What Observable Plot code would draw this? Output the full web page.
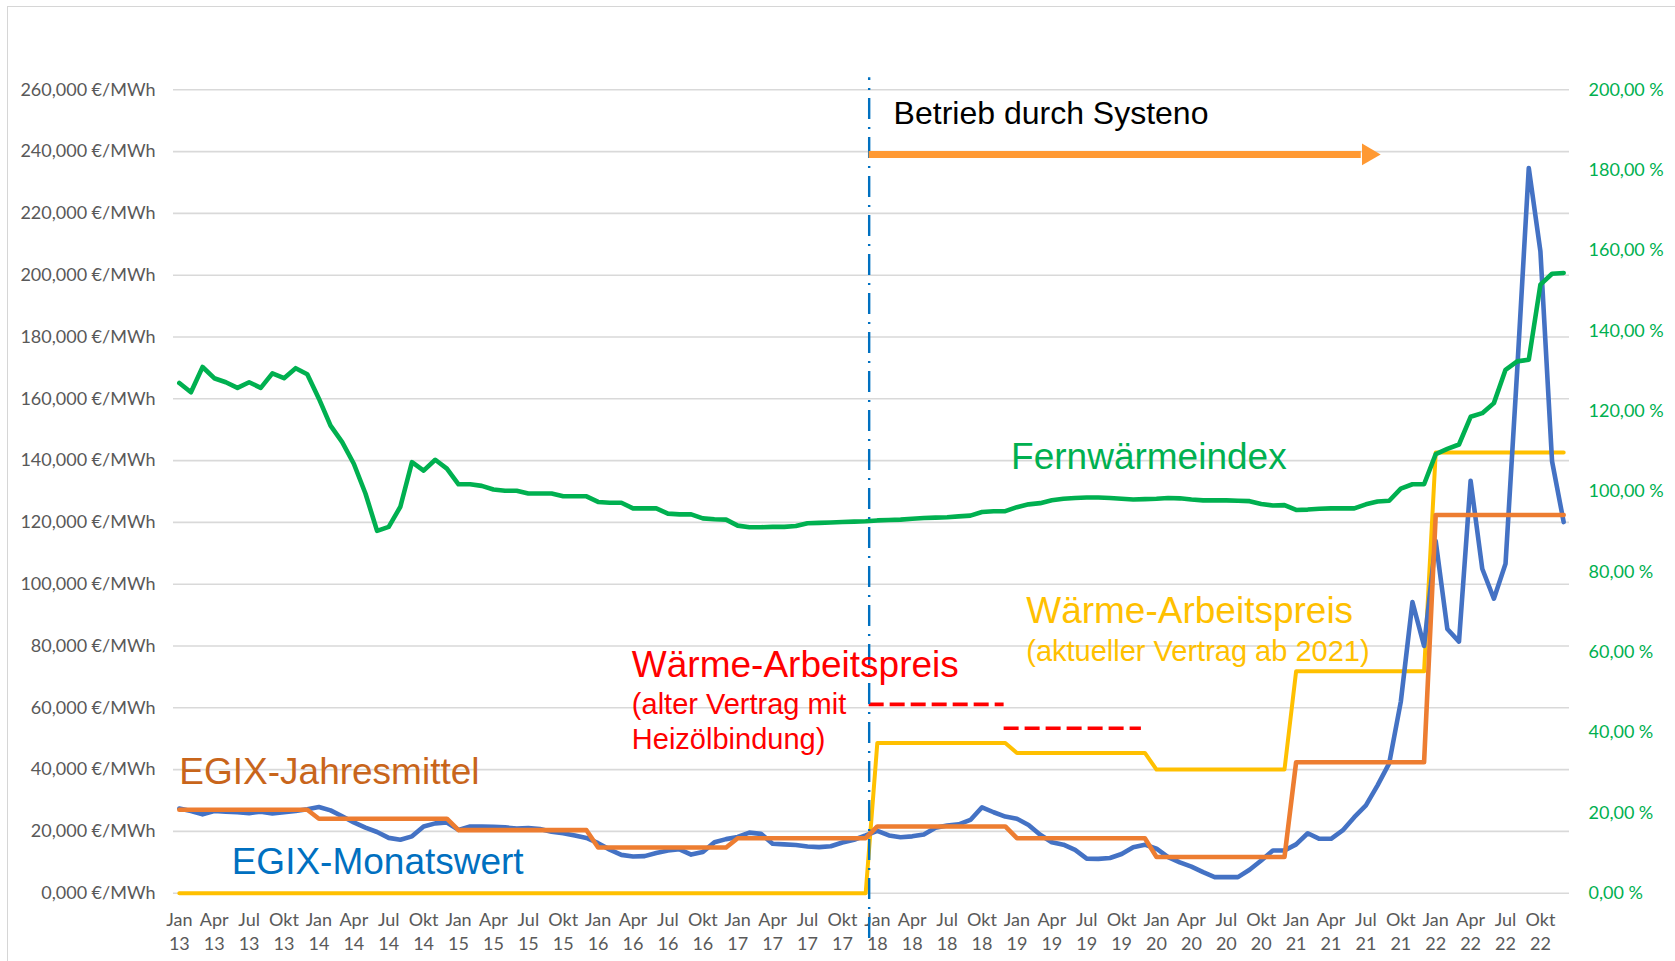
<!DOCTYPE html>
<html>
<head>
<meta charset="utf-8">
<script src="https://cdn.jsdelivr.net/npm/d3@7"></script>
<script src="https://cdn.jsdelivr.net/npm/@observablehq/plot@0.6"></script>
<style>
  html, body { margin: 0; padding: 0; background: #fff; overflow: hidden; }
  #wrap { position: relative; width: 1675px; height: 961px; }
  #border { position: absolute; left: 7px; top: 6px; width: 1668px; height: 955px;
            border-left: 1.5px solid #D6D6D6; border-top: 1.5px solid #D6D6D6; box-sizing: border-box; }
  #chart { position: absolute; left: 0; top: 0; }
</style>
</head>
<body>
<div id="wrap"><div id="border"></div><div id="chart"></div></div>
<script>
// ---- categories / tick labels ----
const monthNames = ["Jan","Feb","Mär","Apr","Mai","Jun","Jul","Aug","Sep","Okt","Nov","Dez"];
const yearLabels = ["13","14","15","16","17","18","19","20","21","22"];
const leftTicks = [0,20,40,60,80,100,120,140,160,180,200,220,240,260];   // €/MWh
const rightTicks = [0,20,40,60,80,100,120,140,160,180,200];              // %

// ---- series (monthly, Jan 13 .. Dez 22) ----
const egixMonatswert = [
  27.4, 26.6, 25.5, 26.6, 26.4, 26.2, 25.9, 26.4, 25.8, 26.2, 26.6, 27.2,
  27.9, 26.8, 24.9, 22.9, 21.2, 19.8, 17.9, 17.3, 18.4, 21.6, 22.6, 22.9,
  20.5, 21.6, 21.6, 21.5, 21.3, 20.9, 21.1, 20.8, 19.9, 19.4, 18.7, 17.9,
  16.2, 14.1, 12.4, 11.9, 12.0, 13.0, 13.8, 14.2, 12.5, 13.3, 16.5, 17.5,
  18.2, 19.6, 19.2, 16.0, 15.8, 15.6, 15.1, 14.9, 15.2, 16.4, 17.3, 18.7,
  20.2, 18.7, 18.1, 18.4, 19.0, 21.2, 21.9, 22.3, 23.7, 27.8, 26.2, 24.8,
  24.1, 22.1, 18.9, 16.5, 15.7, 14.0, 11.2, 11.1, 11.4, 12.7, 14.9, 15.7,
  14.4, 11.7, 10.0, 8.6, 6.8, 5.2, 5.2, 5.2, 7.6, 10.6, 13.8, 13.8,
  15.8, 19.4, 17.6, 17.6, 20.3, 24.6, 28.4, 34.9, 42.0, 62.0, 94.2, 80.0,
  114.0, 85.5, 81.4, 133.5, 105.0, 95.3, 106.6, 169.0, 234.7, 207.7, 139.8, 120.1
];
// yearly values 2013..2022
const egixJahresmittel = [27.0, 24.1, 20.4, 14.8, 17.8, 21.6, 17.8, 11.7, 42.4, 122.4];
const waermeArbeitspreisNeu = [0, 0, 0, 0, 0, 48.6, 45.4, 40.0, 71.8, 142.6];
// Fernwärmeindex in % (right axis)
const fernwaermeindex = [
  127.0, 124.7, 131.0, 128.2, 127.2, 125.8, 127.2, 125.8, 129.4, 128.2, 130.7, 129.2,
  123.1, 116.4, 112.3, 106.9, 99.5, 90.2, 91.2, 96.2, 107.3, 105.2, 107.9, 105.7,
  101.8, 101.8, 101.4, 100.5, 100.2, 100.2, 99.5, 99.5, 99.5, 98.8, 98.8, 98.8,
  97.4, 97.2, 97.2, 95.8, 95.8, 95.8, 94.5, 94.3, 94.3, 93.3, 93.1, 93.0,
  91.5, 91.1, 91.1, 91.2, 91.2, 91.4, 92.1, 92.2, 92.3, 92.4, 92.5, 92.6,
  92.8, 92.9, 93.0, 93.2, 93.4, 93.5, 93.6, 93.8, 94.0, 94.9, 95.1, 95.1,
  96.1, 96.8, 97.1, 97.8, 98.2, 98.4, 98.5, 98.5, 98.4, 98.2, 98.0, 98.1,
  98.2, 98.4, 98.3, 98.0, 97.8, 97.8, 97.8, 97.7, 97.6, 96.9, 96.5, 96.6,
  95.4, 95.5, 95.7, 95.8, 95.8, 95.8, 96.8, 97.5, 97.7, 100.7, 101.8, 101.8,
  109.3, 110.6, 111.7, 118.6, 119.5, 122.0, 130.3, 132.4, 132.8, 151.5, 154.2, 154.4
];
// old contract (Heizölbindung), month-index spans
const waermeArbeitspreisAlt = [
  {from: 59.3, to: 70.9, value: 61.1},
  {from: 70.9, to: 82.7, value: 53.4}
];
const systenoStart = 59.3;          // month index between Dez 17 and Jan 18
const systenoArrow = {from: 59.3, to: 101.6, head: 102.2, value: 239.1};

const annotations = [
  {text: "Betrieb durch Systeno", x: 61.4, y: 252.2, size: 32, color: "#000000"},
  {text: "Fernwärmeindex", x: 71.5, y: 141.1, size: 37, color: "#00B050"},
  {text: "Wärme-Arbeitspreis", x: 72.8, y: 91.3, size: 37, color: "#FFC000"},
  {text: "(aktueller Vertrag ab 2021)", x: 72.8, y: 78.2, size: 29, color: "#FFC000"},
  {text: "Wärme-Arbeitspreis", x: 38.9, y: 73.9, size: 37, color: "#FF0000"},
  {text: "(alter Vertrag mit", x: 38.9, y: 61.0, size: 29, color: "#FF0000"},
  {text: "Heizölbindung)", x: 38.9, y: 49.6, size: 29, color: "#FF0000"},
  {text: "EGIX-Jahresmittel", x: 0.0, y: 39.1, size: 37, color: "#C8651B"},
  {text: "EGIX-Monatswert", x: 4.5, y: 10.0, size: 37, color: "#0070C0"}
];

// ---- build table ----
const pctToLeft = 260 / 200;   // 200 % on the right axis = 260 €/MWh on the left axis
const rows = egixMonatswert.map((v, i) => ({
  i,
  monat: v,
  jahr: egixJahresmittel[Math.floor(i / 12)],
  neu: waermeArbeitspreisNeu[Math.floor(i / 12)],
  index: fernwaermeindex[i] * pctToLeft
}));
const xTicks = d3.range(0, 120, 3);
const fmtLeft = v => v.toFixed(3).replace(".", ",") + "\u202F€/MWh";
const fmtPct = v => v.toFixed(2).replace(".", ",") + "\u202F%";

const lineOpts = {x: "i", strokeLinejoin: "round", strokeLinecap: "round"};

const chart = Plot.plot({
  width: 1675,
  height: 961,
  marginLeft: 173,
  marginRight: 106,
  marginTop: 89.3,
  marginBottom: 68.3,
  style: {fontFamily: "Lato, sans-serif", fontSize: "18px", background: "transparent", overflow: "visible"},
  x: {type: "linear", domain: [-0.5, 119.5]},
  y: {type: "linear", domain: [0, 260]},
  marks: [
    Plot.gridY(leftTicks, {stroke: "#D9D9D9", strokeOpacity: 1, strokeWidth: 1.6}),
    Plot.axisY({ticks: leftTicks, tickSize: 0, tickPadding: 18, tickFormat: fmtLeft,
                fill: "#595959", fontSize: 18, label: null}),
    Plot.axisY({anchor: "right", ticks: rightTicks.map(p => p * pctToLeft), tickSize: 0, tickPadding: 19,
                tickFormat: v => fmtPct(v / pctToLeft), fill: "#00B050", fontSize: 18, label: null}),
    Plot.axisX({ticks: xTicks, tickSize: 0, tickPadding: 15, lineHeight: 1.36,
                tickFormat: i => monthNames[i % 12] + "\n" + yearLabels[Math.floor(i / 12)],
                fill: "#595959", fontSize: 18, label: null}),
    Plot.line(rows, {...lineOpts, y: "neu", stroke: "#FFC000", strokeWidth: 4}),
    Plot.line(rows, {...lineOpts, y: "monat", stroke: "#4472C4", strokeWidth: 4.6}),
    Plot.line(rows, {...lineOpts, y: "jahr", stroke: "#ED7D31", strokeWidth: 4.6}),
    Plot.line(rows, {...lineOpts, y: "index", stroke: "#00B050", strokeWidth: 4.6}),
    Plot.ruleY(waermeArbeitspreisAlt, {y: "value", x1: "from", x2: "to", stroke: "#FF0000",
                strokeWidth: 3.6, strokeDasharray: "15,6"}),
    Plot.ruleX([systenoStart], {y1: -14.7, y2: 263.9, stroke: "#0070C0", strokeWidth: 2.4,
                strokeDasharray: "21,8,2,8"}),
    Plot.ruleY([systenoArrow], {y: "value", x1: "from", x2: "to", stroke: "#FF9933", strokeWidth: 7}),
    Plot.dot([systenoArrow], {x: "head", y: "value", symbol: "triangle", r: 8, rotate: 90,
                fill: "#FF9933", stroke: null}),
    ...annotations.map(a => Plot.text([a], {x: "x", y: "y", text: "text", fill: a.color, fontSize: a.size,
                fontFamily: "Liberation Sans, Arial, sans-serif", textAnchor: "start", lineAnchor: "middle"}))
  ]
});
document.getElementById("chart").appendChild(chart);
</script>
</body>
</html>
